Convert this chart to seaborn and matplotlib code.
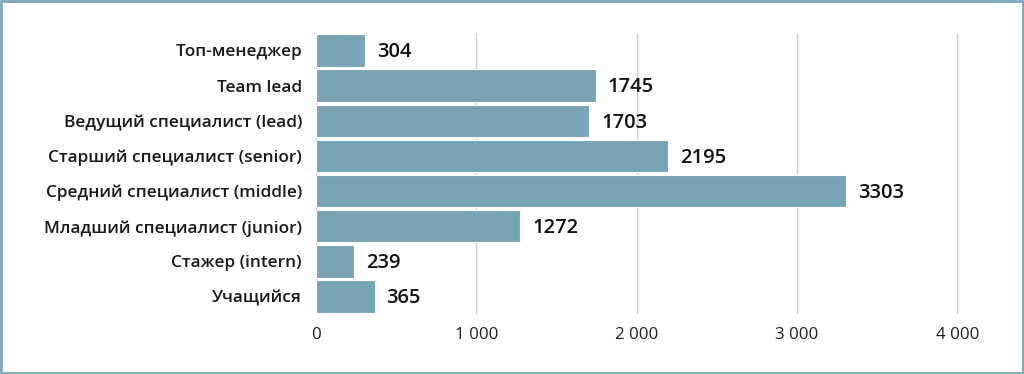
import matplotlib
matplotlib.use("Agg")
import matplotlib.pyplot as plt
import seaborn as sns
import pandas as pd
from matplotlib.patches import Rectangle

categories = ["Топ-менеджер", "Team lead", "Ведущий специалист (lead)",
              "Старший специалист (senior)", "Средний специалист (middle)",
              "Младший специалист (junior)", "Стажер (intern)", "Учащийся"]
values = [304, 1745, 1703, 2195, 3303, 1272, 239, 365]
xticks = [0, 1000, 2000, 3000, 4000]
xtick_labels = ["0", "1 000", "2 000", "3 000", "4 000"]

df = pd.DataFrame({"cat": categories, "val": values})

sns.set_theme(style="white")
plt.rcParams['font.family'] = ['Open Sans', 'DejaVu Sans']

fig = plt.figure(figsize=(10.24, 3.74), dpi=100)
ax = fig.add_axes([0.3086, 0.160, 0.642, 0.752])

sns.barplot(data=df, x="val", y="cat", orient="h", color="#76A3B5",
            saturation=1, width=0.92, edgecolor="white", linewidth=0.8, ax=ax)

ax.set_xlim(0, 4100)
ax.set_xticks(xticks)
ax.set_xticklabels(xtick_labels, fontsize=12.2, color="#222222")
ax.grid(axis="x", color="#d0d0d0", linewidth=1)
ax.set_axisbelow(True)
ax.set_xlabel("")
ax.set_ylabel("")
for s in ax.spines.values():
    s.set_visible(False)
ax.tick_params(axis="y", length=0, pad=10, labelsize=12.4)
ax.tick_params(axis="x", length=0, pad=9)
for lbl in ax.get_yticklabels():
    lbl.set_fontweight("semibold")
    lbl.set_color("#1a1a1a")

for i, v in enumerate(values):
    ax.text(v + 75, i + 0.05, str(v), va="center", ha="left", fontsize=14.5,
            fontweight="semibold", color="#111111")

fig.patches.append(Rectangle((0.001, 0.002), 0.998, 0.996, transform=fig.transFigure,
                             fill=False, edgecolor="#7ba7bc", linewidth=2))

fig.savefig("out.png", dpi=100)
